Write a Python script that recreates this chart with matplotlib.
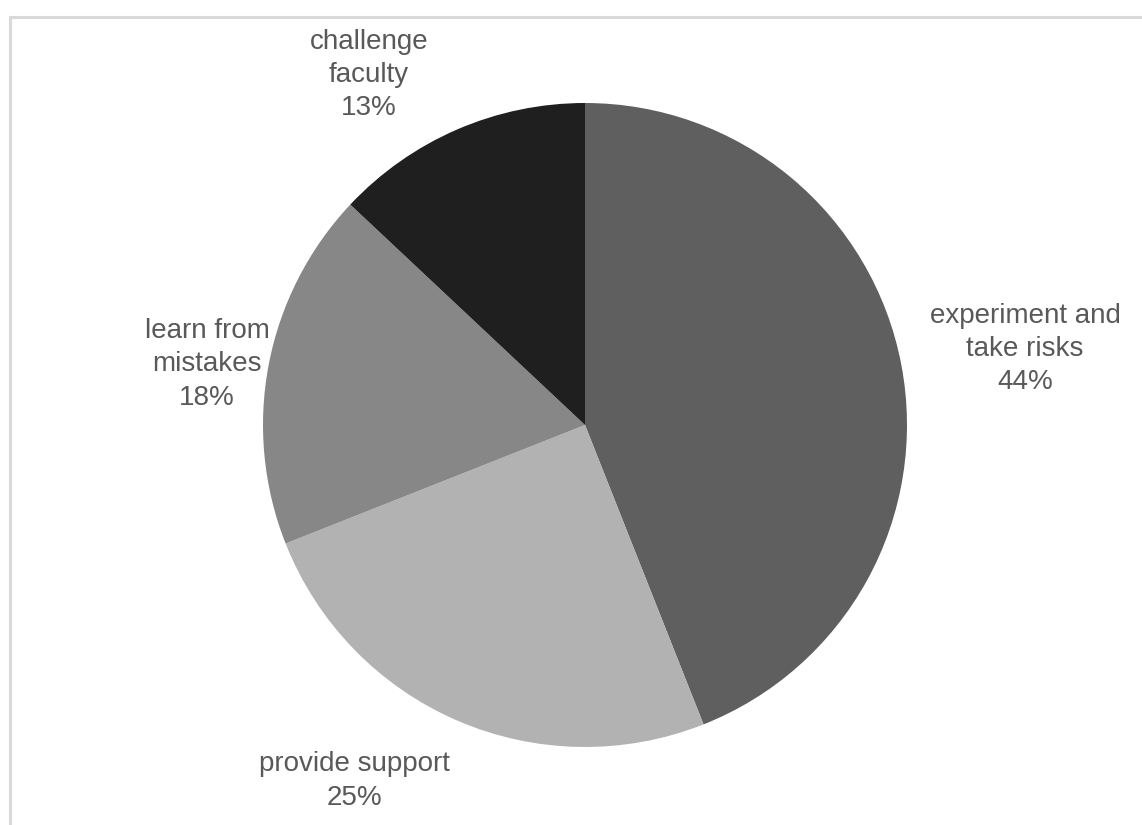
import matplotlib.pyplot as plt
from matplotlib.patches import Rectangle

plt.rcParams['font.family'] = ['Liberation Sans', 'DejaVu Sans']

# survey shares, clockwise from 12 o'clock
labels = ['experiment and\ntake risks', 'provide support', 'learn from\nmistakes', 'challenge\nfaculty']
shares = [44, 25, 18, 13]
colors = ['#5f5f5f', '#b2b2b2', '#878787', '#1f1f1f']

# where each label sits (axes data units, pie radius = 1)
label_xy = [(1.367, 0.236), (-0.717, -1.106), (-1.174, 0.189), (-0.671, 1.087)]

W, H = 1142, 825
fig = plt.figure(figsize=(W / 100, H / 100), dpi=100)

# chart frame (only top and left edges are in view)
fig.patches.append(Rectangle((10 / W, -0.2), 1.3, (H - 17) / H + 0.2,
                             transform=fig.transFigure, fill=False,
                             edgecolor='#d9d9d9', linewidth=2.2))

cx, cy, r = 585, 425, 322
ax = fig.add_axes([(cx - r) / W, (H - cy - r) / H, 2 * r / W, 2 * r / H])
ax.pie(shares, colors=colors, startangle=90, counterclock=False, radius=1,
       wedgeprops=dict(linewidth=0))
ax.set_xlim(-1, 1)
ax.set_ylim(-1, 1)
ax.set_aspect('equal')
ax.axis('off')

total = sum(shares)
for lab, val, (x, y) in zip(labels, shares, label_xy):
    ax.text(x, y, f'{lab}\n{round(val / total * 100)}%', ha='center', va='center',
            fontsize=20, color='#595959', linespacing=1.37, clip_on=False)

fig.savefig('out.png', dpi=100)
